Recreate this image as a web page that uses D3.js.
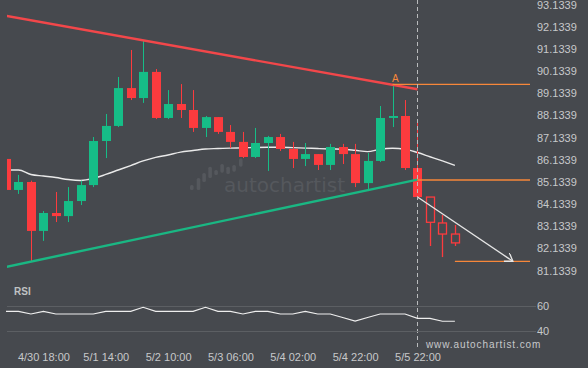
<!DOCTYPE html>
<html><head><meta charset="utf-8">
<script src="https://cdn.jsdelivr.net/npm/d3@7"></script>
<style>
html,body{margin:0;padding:0;background:#46494e;}
svg{display:block;}
</style></head>
<body>
<svg id="c" width="588" height="368"></svg>
<script>
// ---- data ----
const opens  = [86.17,84.77,85.13,82.92,83.73,83.59,84.27,84.99,86.98,87.66,89.37,88.92,90.10,88.02,88.65,88.38,87.57,88.06,87.39,86.94,86.26,86.89,87.16,86.62,86.17,86.39,85.90,86.71,86.39,85.08,86.08,88.02,88.11,85.76];
const highs  = [86.17,85.45,85.19,83.82,84.68,84.90,85.19,87.16,88.20,89.87,91.09,91.50,90.23,89.28,89.55,89.28,88.11,88.06,87.70,87.39,87.57,87.21,87.30,86.94,86.89,86.39,86.85,86.85,86.85,86.44,88.56,89.46,88.83,87.84];
const lows   = [84.77,84.59,81.56,82.47,83.32,83.32,84.09,84.90,86.21,87.61,88.83,88.70,87.97,87.97,88.02,87.39,87.16,87.30,86.66,86.21,86.21,85.63,86.53,85.76,85.85,85.67,85.67,85.94,84.90,84.72,86.03,87.61,85.67,84.45];
const closes = [84.77,85.13,82.92,83.73,83.59,84.27,84.99,86.98,87.66,89.37,88.92,90.10,88.02,88.65,88.38,87.57,88.06,87.39,86.94,86.26,86.89,87.16,86.62,86.17,86.39,85.90,86.71,86.39,85.08,86.08,88.02,88.11,85.76,84.45];
// projected (hollow) candles
const projIndex  = [34,35,36];
const projOpens  = [84.45,83.28,82.78];
const projHighs  = [84.45,83.64,83.19];
const projLows   = [82.24,81.74,82.24];
const projCloses = [83.31,82.78,82.38];
// moving average
const maValues = [85.67,85.67,85.47,85.40,85.33,85.24,85.20,85.29,85.47,85.67,85.87,86.08,86.24,86.35,86.48,86.55,86.62,86.64,86.66,86.67,86.69,86.70,86.70,86.68,86.66,86.64,86.62,86.61,86.56,86.50,86.61,86.65,86.61,86.46,86.27,86.08,85.88];
// RSI
const rsiValues = [55.8,55.8,53.6,55.8,53.6,53.6,53.6,53.6,55.8,55.8,55.8,59.1,55.8,55.8,55.8,55.8,59.1,55.8,55.8,53.6,55.8,55.8,53.6,53.6,55.8,53.6,53.6,50.7,47.8,50.7,53.6,53.6,53.6,50.0,50.0,47.6,47.6];
// pattern lines [index, value]
const resistanceLine = [[0,92.63],[33,89.315]];
const supportLine    = [[0,81.296],[33,85.238]];
const levelA      = {from:31, value:89.54};
const levelBreak  = {from:33, value:85.22};
const levelTarget = {from:36, value:81.55};
const forecastArrow = [[33,84.45],[40.65,81.55]];
const breakIndex = 33;
// axes
const yTicks = [81.1339,82.1339,83.1339,84.1339,85.1339,86.1339,87.1339,88.1339,89.1339,90.1339,91.1339,92.1339,93.1339];
const xTickIndex  = [3,8,13,18,23,28,33];
const xTickLabels = ["4/30 18:00","5/1 14:00","5/2 10:00","5/3 06:00","5/4 02:00","5/4 22:00","5/5 22:00"];
const rsiTicks = [60,40];

// ---- drawing ----
const svg = d3.select("#c");
const GREEN="#16bd87", RED="#fc3b3e", ORANGE="#f7873a", TXT="#c6c8ca";
const L=7, R=530;
const x = d3.scaleLinear().domain([0,42]).range([6,529.7]);
const y = d3.scaleLinear().domain([81.1339,93.1339]).range([270.5,4.7]);
const yr = d3.scaleLinear().domain([40,60]).range([330.5,306.2]);

svg.append("rect").attr("width",588).attr("height",368).attr("fill","#46494e");
svg.append("defs").append("clipPath").attr("id","plot")
  .append("rect").attr("x",L).attr("y",0).attr("width",R-L).attr("height",280);
svg.select("defs").append("marker").attr("id","arr").attr("viewBox","0 0 12 12")
  .attr("refX",10).attr("refY",6).attr("markerWidth",10).attr("markerHeight",10)
  .attr("orient","auto").attr("markerUnits","userSpaceOnUse")
  .append("path").attr("d","M1,0 L10,6 L1,12").attr("fill","none").attr("stroke","#e6e6e6").attr("stroke-width",1.6);

// watermark
const wm = svg.append("g").attr("fill","#55585d");
const logoBars = [[190,185,190],[196.7,178,190],[202.3,173,182],[208.3,166.7,178],[214.3,170,175],[220.3,164,172.7],[226.3,166.7,174],[232.3,165,171.7],[239,158.3,166.7]];
wm.selectAll("rect").data(logoBars).join("rect")
  .attr("x",d=>d[0]).attr("y",d=>d[1]).attr("width",3.6).attr("height",d=>d[2]-d[1]).attr("rx",1.6);
wm.append("text").attr("x",224).attr("y",192).attr("font-family","DejaVu Sans").attr("font-size",19)
  .attr("textLength",121).attr("lengthAdjust","spacingAndGlyphs").text("autochartist");

const plot = svg.append("g").attr("clip-path","url(#plot)");

// MA line
plot.append("path").datum(maValues)
  .attr("d",d3.line().x((d,i)=>x(i)).y(d=>y(d)).curve(d3.curveMonotoneX))
  .attr("fill","none").attr("stroke","#e9e9e9").attr("stroke-width",1.4);

// candles
const candles = opens.map((o,i)=>({i,o,h:highs[i],l:lows[i],c:closes[i]}));
const cg = plot.append("g");
cg.selectAll("line").data(candles).join("line")
  .attr("x1",d=>Math.round(x(d.i))+0.5).attr("x2",d=>Math.round(x(d.i))+0.5)
  .attr("y1",d=>y(d.h)).attr("y2",d=>y(d.l))
  .attr("stroke",d=>d.c>=d.o?GREEN:RED).attr("stroke-width",1);
cg.selectAll("rect").data(candles).join("rect")
  .attr("x",d=>Math.round(x(d.i))-4).attr("width",9)
  .attr("y",d=>y(Math.max(d.o,d.c))).attr("height",d=>Math.max(1.5,Math.abs(y(d.o)-y(d.c))))
  .attr("fill",d=>d.c>=d.o?GREEN:RED);

// projected candles
const proj = projIndex.map((idx,k)=>({i:idx,o:projOpens[k],h:projHighs[k],l:projLows[k],c:projCloses[k]}));
const pg = plot.append("g");
pg.selectAll("line.w1").data(proj).join("line").attr("class","w1")
  .attr("x1",d=>Math.round(x(d.i))+0.5).attr("x2",d=>Math.round(x(d.i))+0.5)
  .attr("y1",d=>y(d.h)).attr("y2",d=>y(Math.max(d.o,d.c)))
  .attr("stroke",RED).attr("stroke-width",1.3);
pg.selectAll("line.w2").data(proj).join("line").attr("class","w2")
  .attr("x1",d=>Math.round(x(d.i))+0.5).attr("x2",d=>Math.round(x(d.i))+0.5)
  .attr("y1",d=>y(Math.min(d.o,d.c))).attr("y2",d=>y(d.l))
  .attr("stroke",RED).attr("stroke-width",1.3);
pg.selectAll("rect").data(proj).join("rect")
  .attr("x",d=>Math.round(x(d.i))-3.5).attr("width",8)
  .attr("y",d=>y(Math.max(d.o,d.c))).attr("height",d=>Math.abs(y(d.o)-y(d.c)))
  .attr("fill","none").attr("stroke",RED).attr("stroke-width",1.3);

// trend lines
const tl = d3.line().x(d=>x(d[0])).y(d=>y(d[1]));
plot.append("path").datum(resistanceLine).attr("d",tl).attr("stroke","#f2474a").attr("stroke-width",2.4).attr("fill","none");
plot.append("path").datum(supportLine).attr("d",tl).attr("stroke","#1ab783").attr("stroke-width",2.4).attr("fill","none");

// levels
[levelA,levelBreak,levelTarget].forEach(lv=>{
  plot.append("line").attr("x1",x(lv.from)).attr("x2",R).attr("y1",y(lv.value)).attr("y2",y(lv.value))
    .attr("stroke",ORANGE).attr("stroke-width",1.3);
});
svg.append("text").attr("x",x(levelA.from)-0.5).attr("y",y(levelA.value)-2).attr("fill",ORANGE)
  .attr("font-family","Liberation Sans").attr("font-size",10).text("A");

// forecast arrow
plot.append("path").datum(forecastArrow).attr("d",tl).attr("stroke","#e6e6e6").attr("stroke-width",1.3)
  .attr("fill","none").attr("marker-end","url(#arr)");

// break dashed line
svg.append("line").attr("x1",Math.round(x(breakIndex))+0.5).attr("x2",Math.round(x(breakIndex))+0.5)
  .attr("y1",0).attr("y2",350).attr("stroke","#b9bbbd").attr("stroke-width",1).attr("stroke-dasharray","4,3");

// y axis
const ya = svg.append("g").attr("transform","translate(537,0)")
  .call(d3.axisRight(y).tickValues(yTicks).tickFormat(d3.format(".4f")).tickSize(0).tickPadding(0));
ya.select(".domain").remove();
ya.selectAll("text").attr("fill",TXT).attr("font-family","Liberation Sans").attr("font-size",11);

// RSI panel
svg.append("text").attr("x",14).attr("y",295).attr("fill","#c0c2c4").attr("font-family","Liberation Sans")
  .attr("font-weight","bold").attr("font-size",10).text("RSI");
svg.append("g").selectAll("line").data(rsiTicks).join("line")
  .attr("x1",L).attr("x2",536).attr("y1",d=>Math.round(yr(d))+0.5).attr("y2",d=>Math.round(yr(d))+0.5)
  .attr("stroke","#5c5f63").attr("stroke-width",1);
const ra = svg.append("g").attr("transform","translate(537,0)")
  .call(d3.axisRight(yr).tickValues(rsiTicks).tickSize(0).tickPadding(0));
ra.select(".domain").remove();
ra.selectAll("text").attr("fill",TXT).attr("font-family","Liberation Sans").attr("font-size",11);
svg.append("path").datum(rsiValues)
  .attr("d",d3.line().x((d,i)=>x(i)).y(d=>yr(d)))
  .attr("fill","none").attr("stroke","#eeeeee").attr("stroke-width",1.2);

// x axis
const xa = svg.append("g").attr("transform","translate(0,353)")
  .call(d3.axisBottom(x).tickValues(xTickIndex).tickFormat((d,k)=>xTickLabels[k]).tickSize(0).tickPadding(0));
xa.select(".domain").remove();
xa.selectAll("text").attr("fill",TXT).attr("font-family","Liberation Sans").attr("font-size",11);

// url
svg.append("text").attr("x",426).attr("y",348).attr("fill",TXT).attr("font-family","Liberation Sans")
  .attr("font-size",10).attr("letter-spacing",0.9).text("www.autochartist.com");
</script>
</body></html>
